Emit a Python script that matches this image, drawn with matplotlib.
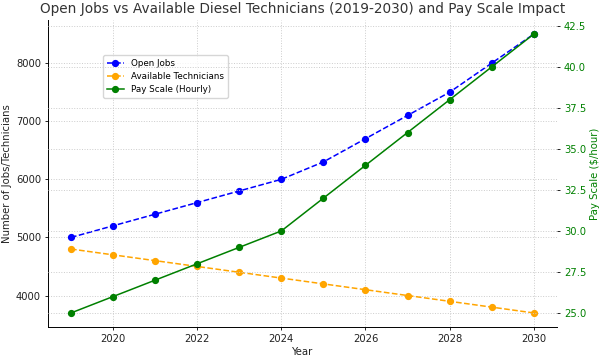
import matplotlib.pyplot as plt

years = [2019, 2020, 2021, 2022, 2023, 2024, 2025, 2026, 2027, 2028, 2029, 2030]
open_jobs = [5000, 5200, 5400, 5600, 5800, 6000, 6300, 6700, 7100, 7500, 8000, 8500]
available_techs = [4800, 4700, 4600, 4500, 4400, 4300, 4200, 4100, 4000, 3900, 3800, 3700]
pay_scale = [25, 26, 27, 28, 29, 30, 32, 34, 36, 38, 40, 42]

fig, ax1 = plt.subplots(figsize=(6.06, 3.6), dpi=100)

l1, = ax1.plot(years, open_jobs, 'o--', color='blue', markersize=4.2, linewidth=1.1, label='Open Jobs')
l2, = ax1.plot(years, available_techs, 'o--', color='orange', markersize=4.2, linewidth=1.1, label='Available Technicians')
ax1.set_xlabel('Year', fontsize=7.3, labelpad=2, color='#222222')
ax1.set_ylabel('Number of Jobs/Technicians', fontsize=7.3, labelpad=3, color='#222222')
ax1.tick_params(labelsize=7.2, length=2.5, width=0.6, pad=2.5, labelcolor='#222222')
ax1.grid(True, linestyle=':', color='#cccccc', linewidth=0.7)
ax1.spines['top'].set_visible(False)
ax1.spines['right'].set_visible(False)
ax1.spines['left'].set_linewidth(0.7)
ax1.spines['bottom'].set_linewidth(0.7)

ax2 = ax1.twinx()
l3, = ax2.plot(years, pay_scale, 'o-', color='green', markersize=4.2, linewidth=1.1, label='Pay Scale (Hourly)')
ax2.set_ylabel('Pay Scale ($/hour)', color='green', fontsize=7.3, labelpad=3)
ax2.tick_params(axis='y', labelcolor='green', labelsize=7.2, length=2.5, width=0.6, pad=2.5)
ax2.grid(True, linestyle=':', color='#cccccc', linewidth=0.7)
for s in ['top', 'right', 'left', 'bottom']:
    ax2.spines[s].set_visible(False)

ax1.set_title('Open Jobs vs Available Diesel Technicians (2019-2030) and Pay Scale Impact', fontsize=9.8, color='#333333', pad=5)
ax1.legend(handles=[l1, l2, l3], loc='upper left', bbox_to_anchor=(0.1, 0.9), fontsize=6.3)

fig.subplots_adjust(left=0.079, right=0.919, top=0.944, bottom=0.092)
fig.savefig('out.png')
